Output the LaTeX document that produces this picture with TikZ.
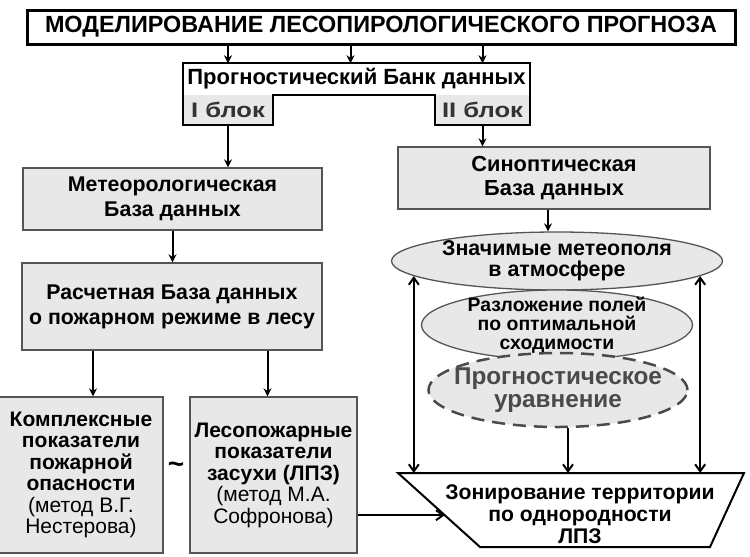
\documentclass[tikz,border=0pt]{standalone}
\usepackage{fontspec}
\setmainfont{Liberation Sans}
\usepackage{xcolor}
\definecolor{lpbg}{HTML}{E8E8E8}
\definecolor{lpln}{HTML}{555555}
\definecolor{lptx}{HTML}{4A4A4A}
\usepackage{tikz}
\usetikzlibrary{arrows.meta,positioning,shapes.geometric,calc}

\begin{document}
\begin{tikzpicture}[x=1pt,y=-1pt,
  box/.style={draw=lpln,line width=1.3pt,fill=lpbg,inner sep=2pt,align=center,font=\bfseries\fontsize{21.3}{25}\selectfont},
  tallbox/.style={box,minimum height=156pt,font=\bfseries\fontsize{21}{21.5}\selectfont},
  oval/.style={ellipse,draw=lpln,line width=1.3pt,fill=lpbg,inner sep=0pt},
  ovaltext/.style={align=center,font=\bfseries\fontsize{21.4}{21}\selectfont},
  arr/.style={line width=2pt,-{Stealth[length=8pt,width=8pt]}},
  barb/.style={line width=2pt,-{Straight Barb[length=7pt,width=10pt]}},
  dbarb/.style={line width=2pt,{Straight Barb[length=7pt,width=10pt]}-{Straight Barb[length=7pt,width=10pt]}}]
\useasboundingbox (0,0) rectangle (750,557);
\fill[white] (0,0) rectangle (750,557);

% top of the scheme
\node[draw,line width=3pt,fill=white,minimum width=708pt,minimum height=34pt,inner sep=0pt,
  font=\bfseries\fontsize{23.4}{26}\selectfont] (title) at (381,27) {МОДЕЛИРОВАНИЕ ЛЕСОПИРОЛОГИЧЕСКОГО ПРОГНОЗА};
\node[fill=white,minimum width=347pt,minimum height=31pt,inner sep=0pt,
  font=\bfseries\fontsize{22}{24}\selectfont] (bankhead) at (356.5,79) {Прогностический Банк данных};
\node[fill=lpbg,text=black!80,minimum width=90pt,minimum height=30pt,inner sep=0pt,
  font=\bfseries\fontsize{21}{22}\selectfont] (blk1) at (228,110) {\scalebox{1.22}[1]{I блок}};
\node[fill=lpbg,text=black!80,minimum width=95pt,minimum height=30pt,inner sep=0pt,
  font=\bfseries\fontsize{21}{22}\selectfont] (blk2) at (482.5,110) {\scalebox{1.22}[1]{II блок}};
\draw[line width=2pt,line join=miter] (bankhead.north west) -- (bankhead.north east) -- (blk2.south east)
  -- (blk2.south west) -- (blk2.north west) -- (blk1.north east) -- (blk1.south east)
  -- (blk1.south west) -- cycle;

% left branch
\node[box,minimum width=299pt,minimum height=62pt] (meteo) at (172.5,199) {Метеорологическая\\База данных};
\node[box,minimum width=300pt,minimum height=87pt] (calc) at (172,306.5) {Расчетная База данных\\о пожарном режиме в лесу};
\node[tallbox,minimum width=164pt] (cplx) at (81,475)
  {Комплексные\\показатели\\пожарной\\опасности\\\mdseries(метод В.Г.\\\mdseries Нестерова)};
\node[tallbox,minimum width=167pt] (lpz) at (273.5,475)
  {Лесопожарные\\показатели\\засухи (ЛПЗ)\\\mdseries(метод М.А.\\\mdseries Софронова)};
\node[font=\bfseries\fontsize{28}{28}\selectfont] (tilde) at (176,468) {\textasciitilde};

% right branch
\node[box,minimum width=312pt,minimum height=62pt,font=\bfseries\fontsize{21.8}{24}\selectfont] (synop) at (554,178) {Синоптическая\\База данных};
\node[oval,minimum width=331pt,minimum height=58pt,
  label={[ovaltext]center:Значимые метеополя\\в атмосфере}] (met1) at (557,261) {};
\node[oval,minimum width=271pt,minimum height=70pt,
  label={[ovaltext,font=\bfseries\fontsize{19.4}{19}\selectfont]center:Разложение полей\\по оптимальной\\сходимости}] (met2) at (557,325) {};
\node[oval,draw=lptx,line width=2.5pt,dash pattern=on 13pt off 8pt,minimum width=259pt,minimum height=74pt,
  label={[ovaltext,text=lptx,font=\bfseries\fontsize{24.3}{23}\selectfont]center:Прогностическое\\уравнение}] (prog) at (558,390) {};

% zoning trapezium
\coordinate (ztl) at (398,473);
\coordinate (ztr) at (744,473);
\coordinate (zbr) at (710,547);
\coordinate (zbl) at (480,547);
\draw[line width=2pt,fill=white] (ztl) -- (ztr) -- (zbr) -- (zbl) -- cycle;
\node[align=center,font=\bfseries\fontsize{21.2}{22}\selectfont] (zone) at (580,514)
  {Зонирование территории\\по однородности\\ЛПЗ};
\coordinate (zin) at ($(ztl)!0.57!(zbl)$);

% connectors
\draw[arr] (title.south -| blk1) -- (bankhead.north -| blk1);
\draw[arr] ([xshift=-6pt]title.south -| bankhead) -- ([xshift=-6pt]bankhead.north);
\draw[arr] (title.south -| blk2) -- (bankhead.north -| blk2);
\draw[arr] (blk1.south) -- (blk1.south |- meteo.north);
\draw[arr] (blk2.south) -- (blk2.south |- synop.north);
\draw[arr] (meteo.south) -- (meteo.south |- calc.north);
\draw[arr] ([xshift=12pt]cplx.north |- calc.south) -- ([xshift=12pt]cplx.north);
\draw[arr] ([xshift=-6pt]lpz.north |- calc.south) -- ([xshift=-6pt]lpz.north);
\draw[arr] ([xshift=-9pt]synop.south -| met1) -- ([xshift=-9pt]met1.north);
\draw[dbarb] (met1.186) -- (met1.186 |- ztl);
\draw[dbarb] (met1.354) -- (met1.354 |- ztl);
\draw[barb] ([xshift=10pt]prog.south) -- ([xshift=10pt]prog.south |- ztl);
\draw[barb] (lpz.east |- zin) -- (zin);
\end{tikzpicture}
\end{document}
